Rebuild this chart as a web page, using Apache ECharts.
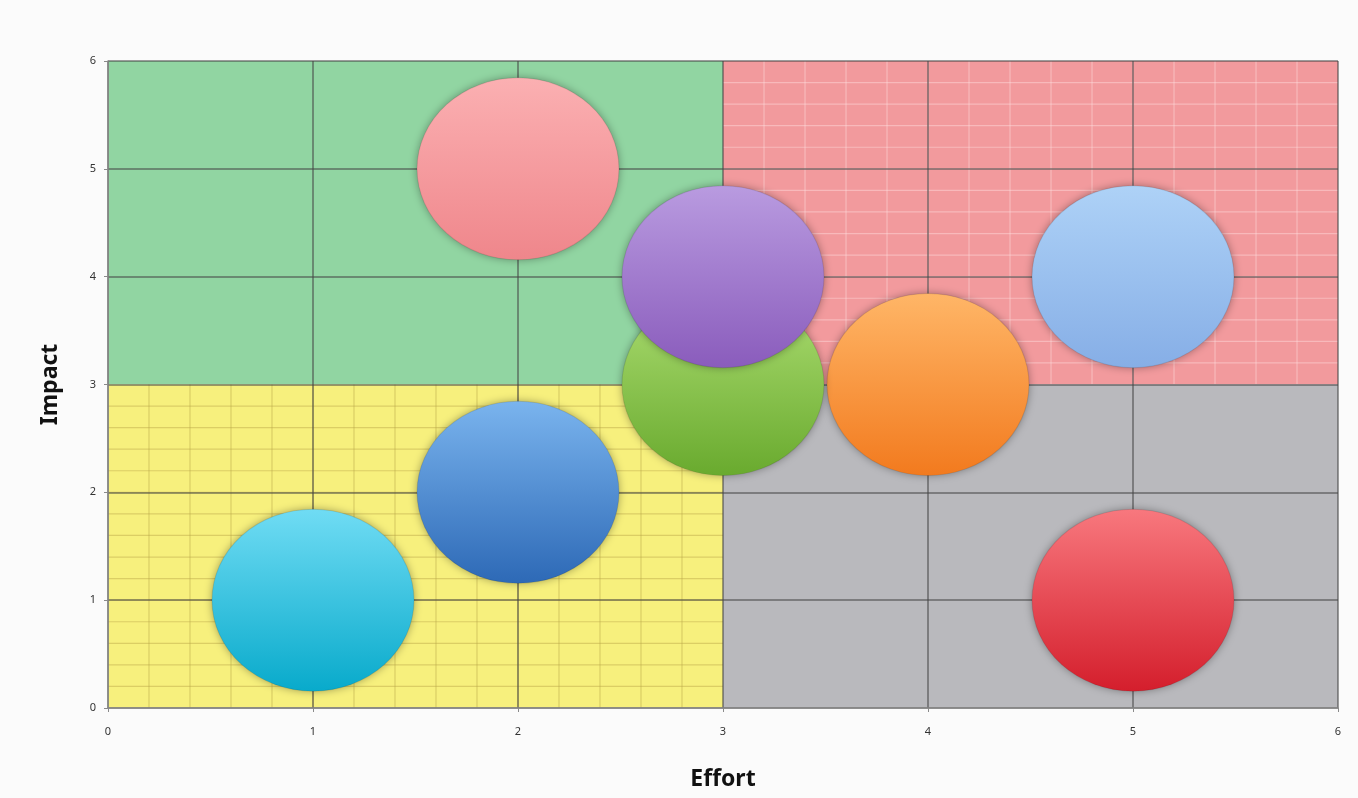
<!DOCTYPE html>
<html>
<head>
<meta charset="utf-8">
<script src="https://cdn.jsdelivr.net/npm/echarts@6/dist/echarts.min.js"></script>
<style>
html,body{margin:0;padding:0;background:#fbfbfb;}
#chart{width:1358px;height:798px;}
</style>
</head>
<body>
<div id="chart"></div>
<script>
// ---- data ----
const effortValues = [2, 5, 4, 3, 3, 2, 1, 5];
const impactValues = [5, 4, 3, 3, 4, 2, 1, 1];
const bubbleSizes  = [1, 1, 1, 1, 1, 1, 1, 1];
const axisTicks = [0, 1, 2, 3, 4, 5, 6];
// quadrant bounds: [xFrom, xTo, yFrom, yTo]
const quadrantBounds = [[0, 3, 3, 6], [3, 6, 3, 6], [0, 3, 0, 3], [3, 6, 0, 3]];

// ---- styles ----
const bubbleGradients = [
  ['#fbb0b2', '#ef868b'],
  ['#aed2f7', '#86aee6'],
  ['#ffb667', '#f27a1e'],
  ['#acdd72', '#69aa2e'],
  ['#b99be0', '#8a5cbc'],
  ['#7ab4ee', '#2d69b6'],
  ['#70dcf4', '#08aacb'],
  ['#f8787e', '#d41e2c']
];
const quadrantFill = ['#91d5a2', '#f29a9d', '#f7f07d', '#b9b9bd'];
const quadrantMinor = [null, 'rgba(255,225,225,0.45)', 'rgba(185,165,70,0.45)', null];
const minorStep = 0.2;

const bubbleData = effortValues.map((x, i) => ({
  value: [x, impactValues[i], bubbleSizes[i]],
  itemStyle: {
    color: {
      type: 'linear', x: 0, y: 0, x2: 0, y2: 1,
      colorStops: [{offset: 0, color: bubbleGradients[i][0]}, {offset: 1, color: bubbleGradients[i][1]}]
    }
  }
}));

const chart = echarts.init(document.getElementById('chart'));
chart.setOption({
  backgroundColor: '#fbfbfb',
  animation: false,
  grid: {left: 108, right: 20, top: 61, bottom: 90},
  xAxis: {
    type: 'value', min: axisTicks[0], max: axisTicks[axisTicks.length - 1], interval: 1,
    name: 'Effort', nameLocation: 'middle', nameGap: 60,
    nameTextStyle: {fontFamily: 'Noto Sans', fontWeight: 'bold', fontSize: 23, color: '#111'},
    axisLine: {show: true, lineStyle: {color: '#8a8a8a', width: 1.5}},
    axisTick: {show: true, length: 4, inside: false, lineStyle: {color: '#8a8a8a'}},
    axisLabel: {fontFamily: 'Noto Sans', fontSize: 11, color: '#333', margin: 18},
    splitLine: {show: true, lineStyle: {color: 'rgba(70,70,70,0.7)', width: 1.5}}
  },
  yAxis: {
    type: 'value', min: axisTicks[0], max: axisTicks[axisTicks.length - 1], interval: 1,
    name: 'Impact', nameLocation: 'middle', nameGap: 46,
    nameTextStyle: {fontFamily: 'Noto Sans', fontWeight: 'bold', fontSize: 23, color: '#111'},
    axisLine: {show: true, lineStyle: {color: '#8a8a8a', width: 1.5}},
    axisTick: {show: true, length: 4, lineStyle: {color: '#8a8a8a'}},
    axisLabel: {fontFamily: 'Noto Sans', fontSize: 11, color: '#333', margin: 12},
    splitLine: {show: true, lineStyle: {color: 'rgba(70,70,70,0.7)', width: 1.5}}
  },
  series: [
    {
      type: 'custom',
      z: -1,
      silent: true,
      data: quadrantBounds.map(b => b.slice()),
      renderItem: function (params, api) {
        const i = params.dataIndex;
        const x0 = api.value(0), x1 = api.value(1), y0 = api.value(2), y1 = api.value(3);
        const p0 = api.coord([x0, y1]);
        const p1 = api.coord([x1, y0]);
        const children = [{
          type: 'rect',
          shape: {x: p0[0], y: p0[1], width: p1[0] - p0[0], height: p1[1] - p0[1]},
          style: {fill: quadrantFill[i]}
        }];
        const mc = quadrantMinor[i];
        if (mc) {
          const nx = Math.round((x1 - x0) / minorStep);
          for (let k = 1; k < nx; k++) {
            const xv = x0 + k * minorStep;
            const a = api.coord([xv, y0]), b = api.coord([xv, y1]);
            children.push({type: 'line', shape: {x1: a[0], y1: a[1], x2: b[0], y2: b[1]}, style: {stroke: mc, lineWidth: 1.2}});
          }
          const ny = Math.round((y1 - y0) / minorStep);
          for (let k = 1; k < ny; k++) {
            const yv = y0 + k * minorStep;
            const a = api.coord([x0, yv]), b = api.coord([x1, yv]);
            children.push({type: 'line', shape: {x1: a[0], y1: a[1], x2: b[0], y2: b[1]}, style: {stroke: mc, lineWidth: 1.2}});
          }
        }
        return {type: 'group', children: children};
      }
    },
    {
      type: 'scatter',
      z: 3,
      symbol: 'circle',
      symbolSize: [202, 182],
      itemStyle: {opacity: 1, shadowBlur: 8, shadowColor: 'rgba(0,0,0,0.35)', borderColor: 'rgba(0,0,0,0.10)', borderWidth: 1},
      data: bubbleData
    }
  ]
});
</script>
</body>
</html>
